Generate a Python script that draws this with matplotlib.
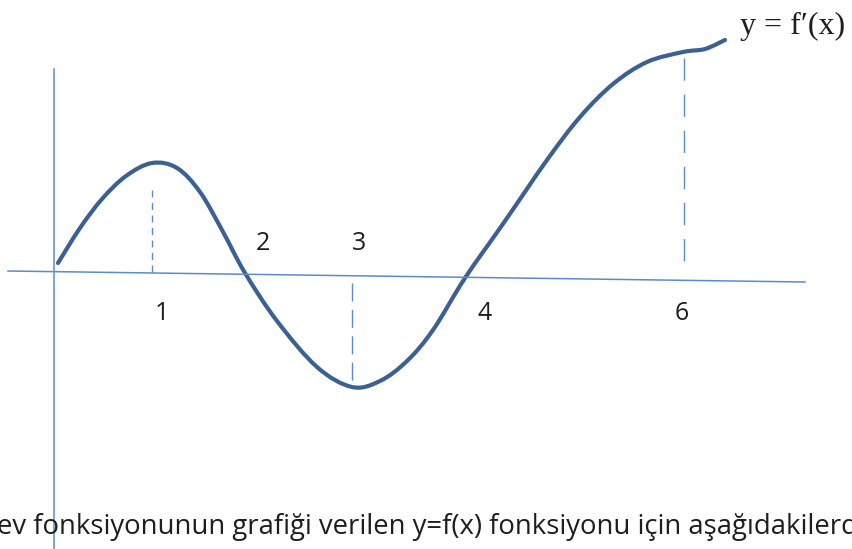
import numpy as np
import matplotlib.pyplot as plt
from matplotlib.path import Path
from matplotlib.patches import PathPatch

# sketch is in picture (pixel) units: x to the right, y downwards
curve_x = [58, 80, 102, 126, 152, 177, 200, 222, 245, 277, 317, 352, 380,
           407, 433, 465, 505, 547, 580, 613, 647, 683, 705, 725]
curve_y = [263, 228, 199, 176, 163, 168, 192, 230, 273, 321, 367, 387, 381,
           361, 330, 278, 221, 160, 117, 84, 62, 52, 49, 40]

# dashed guides: x, top, bottom
guide_x = [152, 352, 684]
guide_top = [190, 283, 58]
guide_bottom = [272, 388, 273]
guide_dash = [(5, 4), (13, 6), (16, 10)]

tick_labels = ["1", "2", "3", "4", "6"]
label_x = [162, 263, 359, 485, 682]
label_y = [313, 243, 243, 313, 313]

caption = "ev fonksiyonunun grafiği verilen y=f(x) fonksiyonu için aşağıdakilerd"

curve_col = "#3a6192"
axis_col = "#5a8bcc"
txt_col = "#1e1e1e"

fig = plt.figure(figsize=(8.53, 5.49), dpi=100)
ax = fig.add_axes([0, 0, 1, 1])
ax.set_xlim(0, 853)
ax.set_ylim(549, 0)
ax.axis("off")

# axes of the sketch
ax.plot([8, 805], [271, 282], color=axis_col, lw=1.1)
ax.plot([54, 54], [69, 549], color=axis_col, lw=1.1)

for gx, t, b, d in zip(guide_x, guide_top, guide_bottom, guide_dash):
    ax.plot([gx, gx], [t, b], color=axis_col, lw=1.0, linestyle=(0, d))

# smooth curve through the read points (catmull-rom -> cubic bezier)
pts = np.column_stack([curve_x, curve_y]).astype(float)
verts = [pts[0]]
codes = [Path.MOVETO]
n = len(pts)
for i in range(n - 1):
    p0 = pts[max(i - 1, 0)]
    p1 = pts[i]
    p2 = pts[i + 1]
    p3 = pts[min(i + 2, n - 1)]
    c1 = p1 + (p2 - p0) / 6
    c2 = p2 - (p3 - p1) / 6
    verts += [c1, c2, p2]
    codes += [Path.CURVE4] * 3
ax.add_patch(PathPatch(Path(verts, codes), fill=False, edgecolor=curve_col,
                       lw=3.0, capstyle="round"))

for t, x, y in zip(tick_labels, label_x, label_y):
    ax.text(x, y, t, ha="center", va="center", fontsize=18,
            family="Open Sans", color=txt_col)

ax.text(740, 26, "y = f\u2032(x)", ha="left", va="center", fontsize=23,
        family=["Liberation Serif", "DejaVu Serif"], color=txt_col)

ax.text(-3, 527, caption, ha="left", va="center", fontsize=19.8,
        family="Open Sans", color=txt_col)

fig.savefig("out.png", dpi=100)
